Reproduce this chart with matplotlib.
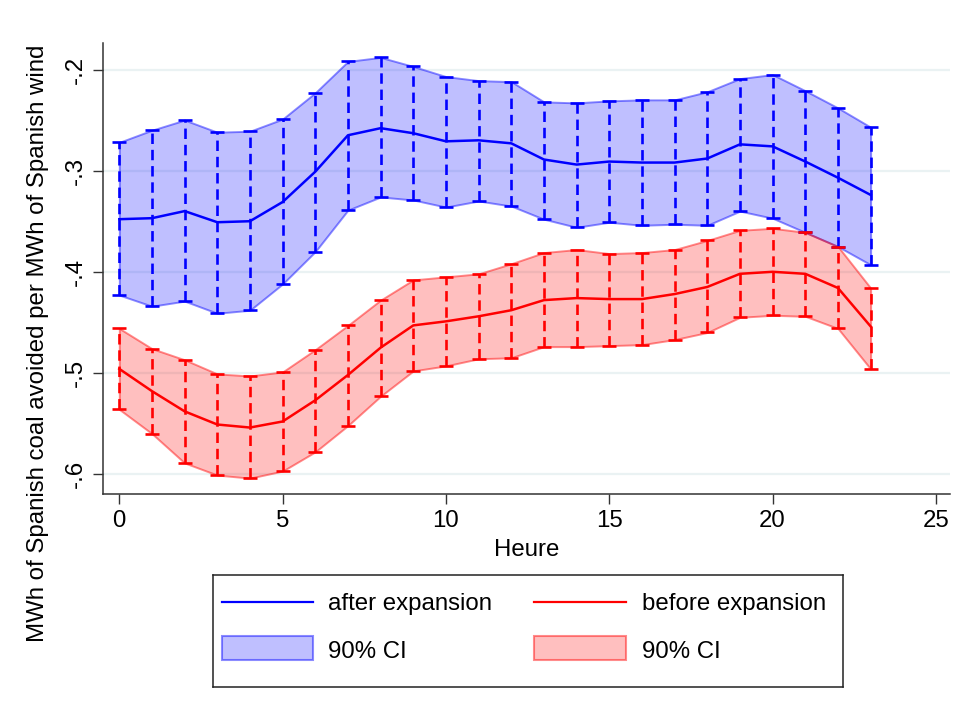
import matplotlib
matplotlib.use("Agg")
import matplotlib.pyplot as plt
from matplotlib.patches import Rectangle
from matplotlib.lines import Line2D
import numpy as np

plt.rcParams['font.family'] = ['Liberation Sans', 'DejaVu Sans']
plt.rcParams['lines.scale_dashes'] = False

hours = [0, 1, 2, 3, 4, 5, 6, 7, 8, 9, 10, 11, 12, 13, 14, 15, 16, 17, 18, 19, 20, 21, 22, 23]

after_mean = [-0.348, -0.347, -0.340, -0.351, -0.350, -0.331, -0.301, -0.265, -0.258, -0.263, -0.271, -0.270,
              -0.273, -0.289, -0.294, -0.291, -0.292, -0.292, -0.288, -0.274, -0.276, -0.291, -0.307, -0.324]
after_hi = [-0.272, -0.260, -0.250, -0.262, -0.261, -0.249, -0.223, -0.192, -0.188, -0.197, -0.207, -0.211,
            -0.212, -0.232, -0.233, -0.231, -0.230, -0.230, -0.222, -0.209, -0.205, -0.221, -0.238, -0.257]
after_lo = [-0.423, -0.434, -0.429, -0.441, -0.438, -0.412, -0.380, -0.339, -0.326, -0.329, -0.336, -0.330,
            -0.335, -0.348, -0.356, -0.351, -0.354, -0.353, -0.354, -0.340, -0.347, -0.361, -0.375, -0.393]

before_mean = [-0.496, -0.518, -0.538, -0.551, -0.554, -0.548, -0.527, -0.502, -0.475, -0.453, -0.449, -0.444,
               -0.438, -0.428, -0.426, -0.427, -0.427, -0.422, -0.415, -0.402, -0.400, -0.402, -0.416, -0.454]
before_hi = [-0.456, -0.476, -0.487, -0.501, -0.503, -0.499, -0.477, -0.453, -0.428, -0.408, -0.405, -0.402,
             -0.392, -0.381, -0.378, -0.382, -0.381, -0.378, -0.369, -0.359, -0.357, -0.361, -0.375, -0.416]
before_lo = [-0.536, -0.560, -0.589, -0.601, -0.604, -0.597, -0.578, -0.552, -0.523, -0.498, -0.493, -0.486,
             -0.485, -0.474, -0.474, -0.473, -0.472, -0.467, -0.460, -0.445, -0.443, -0.444, -0.456, -0.496]

xticks = [0, 5, 10, 15, 20, 25]
yticks = [-0.6, -0.5, -0.4, -0.3, -0.2]
ytick_labels = ['-.6', '-.5', '-.4', '-.3', '-.2']

label_after = "after expansion"
label_before = "before expansion"
label_ci = "90% CI"
xlabel = "Heure"
ylabel = "MWh of Spanish coal avoided per MWh of Spanish wind"

W, H = 960, 711
fig = plt.figure(figsize=(9.6, 7.11), dpi=100)

L, R, T, B = 103.3, 950, 42.7, 494.3
ax = fig.add_axes([L / W, 1 - B / H, (R - L) / W, (B - T) / H])

blue = (0, 0, 1)
red = (1, 0, 0)
FS = 17.3

ax.set_axisbelow(True)
for yv in yticks:
    ax.axhline(yv, color='#eaf2f3', lw=1.6, zorder=0)

def draw(mean, lo, hi, col):
    x = np.array(hours)
    m = np.array(mean); l = np.array(lo); h = np.array(hi)
    ax.fill_between(x, l, h, facecolor=col + (0.25,), edgecolor=col + (0.45,), lw=1.4, zorder=2)
    eb = ax.errorbar(x, m, yerr=[m - l, h - m], fmt='none', ecolor=col, elinewidth=1.9,
                     capsize=4.8, capthick=1.9, zorder=3)
    eb[2][0].set_linestyle((0, (7.5, 4.2)))
    ax.plot(x, m, color=col, lw=1.8, zorder=4)

draw(after_mean, after_lo, after_hi, blue)
draw(before_mean, before_lo, before_hi, red)

ax.set_xlim(-0.49, 25.43)
ax.set_ylim(-0.620, -0.1735)
ax.set_xticks(xticks)
ax.set_xticklabels([str(v) for v in xticks], fontsize=FS)
ax.set_yticks(yticks)
ax.set_yticklabels(ytick_labels, fontsize=FS, rotation=90, va='center')
ax.tick_params(axis='both', direction='out', length=7, width=1.0, color='#333333')
ax.tick_params(axis='x', pad=4.5)
ax.tick_params(axis='y', pad=5)
for s in ['top', 'right']:
    ax.spines[s].set_visible(False)
for s in ['left', 'bottom']:
    ax.spines[s].set_color('#333333')
    ax.spines[s].set_linewidth(1.1)

fig.text(527 / W, 1 - 555.5 / H, xlabel, ha='center', va='baseline', fontsize=FS)
fig.text(38 / W, 1 - 343 / H, ylabel, ha='center', va='center', rotation=90, fontsize=FS)

# legend box (manual, pixel coords)
lx0, lx1, ly0, ly1 = 212.7, 843.3, 575, 686.7
lax = fig.add_axes([lx0 / W, 1 - ly1 / H, (lx1 - lx0) / W, (ly1 - ly0) / H])
lax.set_xlim(lx0, lx1)
lax.set_ylim(ly1, ly0)
lax.set_xticks([]); lax.set_yticks([])
for s in lax.spines.values():
    s.set_color('#222222'); s.set_linewidth(1.1)

lax.add_line(Line2D([222, 313], [601.7, 601.7], color=blue, lw=1.6))
lax.text(328.3, 610, label_after, fontsize=FS, va='baseline', ha='left')
lax.add_line(Line2D([534, 626], [601.7, 601.7], color=red, lw=1.6))
lax.text(641.7, 610, label_before, fontsize=FS, va='baseline', ha='left')

lax.add_patch(Rectangle((222, 636), 91, 24, facecolor=blue + (0.25,), edgecolor=blue + (0.45,), lw=1.5))
lax.text(328.3, 658.5, label_ci, fontsize=FS, va='baseline', ha='left')
lax.add_patch(Rectangle((534, 636), 92, 24, facecolor=red + (0.25,), edgecolor=red + (0.45,), lw=1.5))
lax.text(641.7, 658.5, label_ci, fontsize=FS, va='baseline', ha='left')

fig.savefig('out.png', dpi=100)
